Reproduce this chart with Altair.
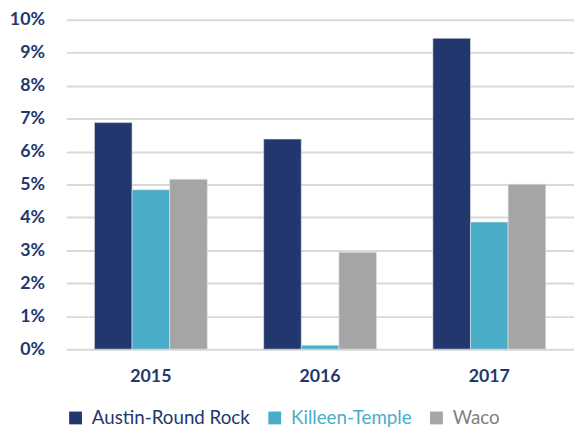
import altair as alt
import pandas as pd

years = ["2015", "2016", "2017"]
series = ["Austin-Round Rock", "Killeen-Temple", "Waco"]
austin = [6.88, 6.38, 9.44]
killeen = [4.84, 0.12, 3.86]
waco = [5.16, 2.94, 5.01]
colors = ["#22376E", "#4AADC7", "#A5A5A5"]
y_ticks = [0, 0.01, 0.02, 0.03, 0.04, 0.05, 0.06, 0.07, 0.08, 0.09, 0.10]

rows = []
for i, yr in enumerate(years):
    for s, vals in zip(series, [austin, killeen, waco]):
        rows.append({"year": yr, "series": s, "value": vals[i] / 100})
df = pd.DataFrame(rows)

navy = "#22376E"
font = "Lato"

label_fill = (
    "datum.value == 'Waco' ? '#7F7F7F' : "
    "(datum.value == 'Killeen-Temple' ? '#4AADC7' : '#22376E')"
)

chart = (
    alt.Chart(df)
    .mark_bar(stroke="#E6E6E6", strokeWidth=0.6)
    .encode(
        x=alt.X(
            "year:N",
            sort=years,
            scale=alt.Scale(paddingInner=0.333, paddingOuter=0.167),
            axis=alt.Axis(
                title=None, labelAngle=0, domain=False, ticks=False,
                labelFontSize=18, labelFontWeight="bold", labelColor=navy,
                labelFont=font, labelPadding=19,
            ),
        ),
        xOffset=alt.XOffset("series:N", sort=series),
        y=alt.Y(
            "value:Q",
            scale=alt.Scale(domain=[0, 0.10], nice=False),
            axis=alt.Axis(
                title=None, format=".0%", values=y_ticks, domain=False, ticks=False,
                grid=True, gridColor="#D9D9D9", gridWidth=2,
                labelFontSize=18, labelFontWeight="bold", labelColor=navy,
                labelFont=font, labelPadding=22,
            ),
        ),
        color=alt.Color(
            "series:N",
            sort=series,
            scale=alt.Scale(domain=series, range=colors),
            legend=alt.Legend(
                title=None, orient="none", direction="horizontal",
                legendX=0, legendY=394,
                symbolType="square", symbolSize=169, symbolStrokeWidth=0,
                labelFont=font, labelFontSize=19, labelOffset=7,
                columnPadding=15, labelLimit=300,
                labelColor={"expr": label_fill},
            ),
        ),
    )
    .properties(
        width=515, height=334,
        autosize=alt.AutoSizeParams(type="none"),
        padding={"left": 59, "top": 9, "right": 0, "bottom": 82},
    )
    .configure_view(stroke=None)
)

chart.save("out.html", embed_options={"renderer": "svg", "actions": False})
